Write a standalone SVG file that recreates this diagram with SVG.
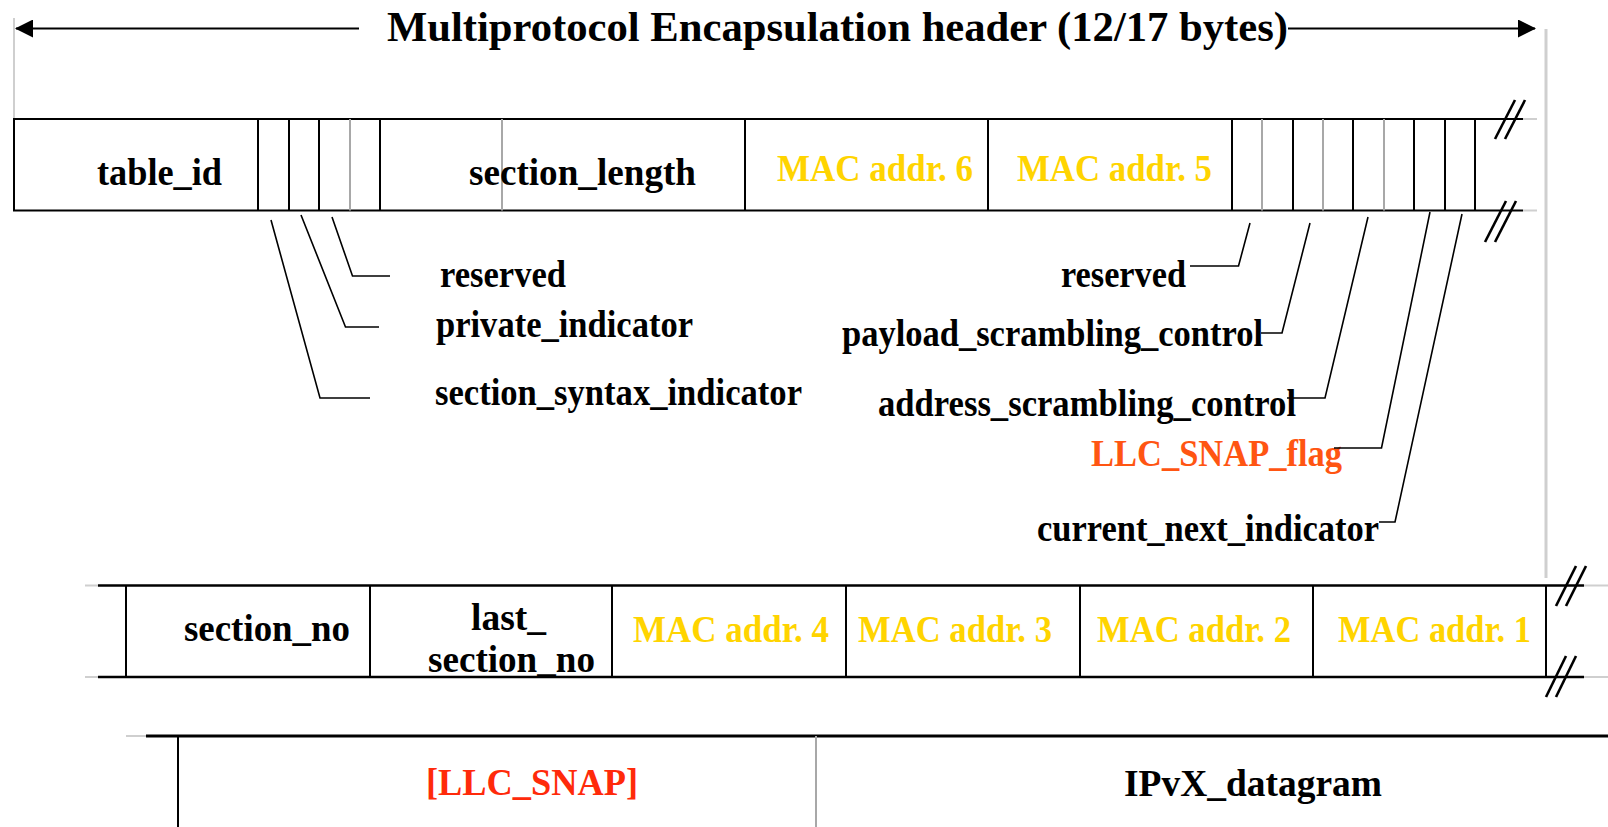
<svg xmlns="http://www.w3.org/2000/svg" width="1608" height="827" viewBox="0 0 1608 827">
  <defs>
    <style>
      text { font-family: "Liberation Serif", "Times New Roman", serif; font-weight: bold; fill: #000; }
      .title { font-size: 42px; }
      .lbl { font-size: 38px; }
      .mac { fill: #FFD400; }
      .flag { fill: #FF5512; }
      .opt { fill: #FF2A0A; }
      .frame { stroke: #000; stroke-width: 2; fill: none; }
      .frame2 { stroke: #000; stroke-width: 2.6; fill: none; }
      .div { stroke: #000; stroke-width: 2; }
      .sub { stroke: #A8A8A8; stroke-width: 2; }
      .ext { stroke: #CFCFCF; stroke-width: 2; }
      .brk { stroke: #000; stroke-width: 2.6; }
      .lead { stroke: #000; stroke-width: 1.6; fill: none; }
      .dim { stroke: #000; stroke-width: 2; }
    </style>
    <marker id="arr" markerWidth="18" markerHeight="18" refX="17" refY="9" orient="auto" markerUnits="userSpaceOnUse">
      <path d="M0,0 L18,9 L0,18 Z" fill="#000"/>
    </marker>
  </defs>
  <rect width="1608" height="827" fill="#fff"/>

  <!-- overall header span -->
  <g id="title">
    <line class="ext" x1="14" y1="18" x2="14" y2="119"/>
    <line class="ext" x1="1546" y1="29" x2="1546" y2="578" style="stroke-width:3"/>
    <line class="dim" x1="359" y1="28.5" x2="16" y2="28.5" marker-end="url(#arr)"/>
    <line class="dim" x1="1288" y1="28.5" x2="1535" y2="28.5" marker-end="url(#arr)"/>
    <text class="title" x="387" y="41" textLength="901" lengthAdjust="spacingAndGlyphs">Multiprotocol Encapsulation header (12/17 bytes)</text>
  </g>

  <!-- first row of fields -->
  <g id="row1">
    <line class="ext" x1="1523" y1="119" x2="1537" y2="119"/>
    <line class="ext" x1="1523" y1="210.5" x2="1537" y2="210.5"/>
    <polyline class="frame" points="1523,119 14,119 14,210.5 1523,210.5"/>
    <g>
      <line class="div" x1="258" y1="119" x2="258" y2="210.5"/>
      <line class="div" x1="289" y1="119" x2="289" y2="210.5"/>
      <line class="div" x1="319" y1="119" x2="319" y2="210.5"/>
      <line class="sub" x1="350" y1="119" x2="350" y2="210.5"/>
      <line class="div" x1="380" y1="119" x2="380" y2="210.5"/>
      <line class="sub" x1="502" y1="119" x2="502" y2="210.5"/>
      <line class="div" x1="745" y1="119" x2="745" y2="210.5"/>
      <line class="div" x1="988" y1="119" x2="988" y2="210.5"/>
      <line class="div" x1="1232" y1="119" x2="1232" y2="210.5"/>
      <line class="sub" x1="1262" y1="119" x2="1262" y2="210.5"/>
      <line class="div" x1="1293" y1="119" x2="1293" y2="210.5"/>
      <line class="sub" x1="1323" y1="119" x2="1323" y2="210.5"/>
      <line class="div" x1="1353" y1="119" x2="1353" y2="210.5"/>
      <line class="sub" x1="1384" y1="119" x2="1384" y2="210.5"/>
      <line class="div" x1="1414" y1="119" x2="1414" y2="210.5"/>
      <line class="div" x1="1445" y1="119" x2="1445" y2="210.5"/>
      <line class="div" x1="1475" y1="119" x2="1475" y2="210.5"/>
    </g>
    <line class="brk" x1="1495" y1="139" x2="1515" y2="100"/>
    <line class="brk" x1="1505" y1="139" x2="1525" y2="100"/>
    <line class="brk" x1="1485" y1="242" x2="1506" y2="201"/>
    <line class="brk" x1="1495" y1="242" x2="1516" y2="201"/>
  </g>
  <g id="table_id"><text class="lbl" x="97" y="185" textLength="125" lengthAdjust="spacingAndGlyphs">table_id</text></g>
  <g id="section_length"><text class="lbl" x="469" y="185" textLength="227" lengthAdjust="spacingAndGlyphs">section_length</text></g>
  <g id="mac6"><text class="lbl mac" x="777" y="181" textLength="196" lengthAdjust="spacingAndGlyphs">MAC addr. 6</text></g>
  <g id="mac5"><text class="lbl mac" x="1017" y="181" textLength="195" lengthAdjust="spacingAndGlyphs">MAC addr. 5</text></g>

  <!-- bit-field labels -->
  <g id="reserved_l"><text class="lbl" x="440" y="287" textLength="126" lengthAdjust="spacingAndGlyphs">reserved</text></g>
  <g id="private_indicator"><text class="lbl" x="436" y="337" textLength="257" lengthAdjust="spacingAndGlyphs">private_indicator</text></g>
  <g id="section_syntax_indicator"><text class="lbl" x="435" y="405" textLength="367" lengthAdjust="spacingAndGlyphs">section_syntax_indicator</text></g>
  <g id="reserved_r"><text class="lbl" x="1061" y="287" textLength="125" lengthAdjust="spacingAndGlyphs">reserved</text></g>
  <g id="payload_scrambling_control"><text class="lbl" x="842" y="346" textLength="421" lengthAdjust="spacingAndGlyphs">payload_scrambling_control</text></g>
  <g id="address_scrambling_control"><text class="lbl" x="878" y="416" textLength="418" lengthAdjust="spacingAndGlyphs">address_scrambling_control</text></g>
  <g id="llc_snap_flag"><text class="lbl flag" x="1091" y="466" textLength="251" lengthAdjust="spacingAndGlyphs">LLC_SNAP_flag</text></g>
  <g id="current_next_indicator"><text class="lbl" x="1037" y="541" textLength="342" lengthAdjust="spacingAndGlyphs">current_next_indicator</text></g>

  <!-- second row of fields -->
  <g id="row2">
    <line class="ext" x1="85" y1="585.5" x2="98" y2="585.5"/>
    <line class="ext" x1="85" y1="677" x2="98" y2="677"/>
    <line class="ext" x1="1584" y1="585.5" x2="1608" y2="585.5"/>
    <line class="ext" x1="1584" y1="677" x2="1608" y2="677"/>
    <line class="frame2" x1="98" y1="585.5" x2="1584" y2="585.5"/>
    <line class="frame2" x1="98" y1="677" x2="1584" y2="677"/>
    <line class="div" x1="126" y1="585.5" x2="126" y2="677"/>
    <line class="div" x1="370" y1="585.5" x2="370" y2="677"/>
    <line class="div" x1="612" y1="585.5" x2="612" y2="677"/>
    <line class="div" x1="846" y1="585.5" x2="846" y2="677"/>
    <line class="div" x1="1080" y1="585.5" x2="1080" y2="677"/>
    <line class="div" x1="1313" y1="585.5" x2="1313" y2="677"/>
    <line class="div" x1="1546" y1="585.5" x2="1546" y2="677"/>
    <line class="brk" x1="1556" y1="606" x2="1576" y2="566"/>
    <line class="brk" x1="1566" y1="606" x2="1586" y2="566"/>
    <line class="brk" x1="1546" y1="697" x2="1566" y2="656"/>
    <line class="brk" x1="1556" y1="697" x2="1576" y2="656"/>
  </g>
  <g id="section_no"><text class="lbl" x="184" y="641" textLength="166" lengthAdjust="spacingAndGlyphs">section_no</text></g>
  <g id="last_section_no">
    <text class="lbl" x="471" y="630" textLength="75" lengthAdjust="spacingAndGlyphs">last_</text>
    <text class="lbl" x="428" y="672" textLength="167" lengthAdjust="spacingAndGlyphs">section_no</text>
  </g>
  <g id="mac4"><text class="lbl mac" x="633" y="642" textLength="196" lengthAdjust="spacingAndGlyphs">MAC addr. 4</text></g>
  <g id="mac3"><text class="lbl mac" x="858" y="642" textLength="194" lengthAdjust="spacingAndGlyphs">MAC addr. 3</text></g>
  <g id="mac2"><text class="lbl mac" x="1097" y="642" textLength="194" lengthAdjust="spacingAndGlyphs">MAC addr. 2</text></g>
  <g id="mac1"><text class="lbl mac" x="1338" y="642" textLength="193" lengthAdjust="spacingAndGlyphs">MAC addr. 1</text></g>

  <!-- payload row -->
  <g id="row3">
    <line class="ext" x1="126" y1="736" x2="146" y2="736"/>
    <line class="frame2" x1="146" y1="736" x2="1608" y2="736" style="stroke-width:3"/>
    <line class="div" x1="178" y1="736" x2="178" y2="827"/>
    <line class="sub" x1="816" y1="736" x2="816" y2="827"/>
  </g>
  <g id="llc_snap"><text class="lbl opt" x="426" y="795" textLength="212" lengthAdjust="spacingAndGlyphs">[LLC_SNAP]</text></g>
  <g id="ipvx_datagram"><text class="lbl" x="1124" y="796" textLength="258" lengthAdjust="spacingAndGlyphs">IPvX_datagram</text></g>

  <!-- leader lines from bit fields to their labels -->
  <g id="connectors">
    <polyline class="lead" points="332,217 352.5,276 390,276"/>
    <polyline class="lead" points="301,215 345.5,327 379,327"/>
    <polyline class="lead" points="271,220 320,398 370,398"/>
    <polyline class="lead" points="1250,223 1238.5,266 1190,266"/>
    <polyline class="lead" points="1310,223 1282,333 1261,333"/>
    <polyline class="lead" points="1368,217 1325,398 1287,398"/>
    <polyline class="lead" points="1430,212 1381.5,448 1334,448"/>
    <polyline class="lead" points="1462,214 1395,522 1379,522"/>
  </g>
</svg>
